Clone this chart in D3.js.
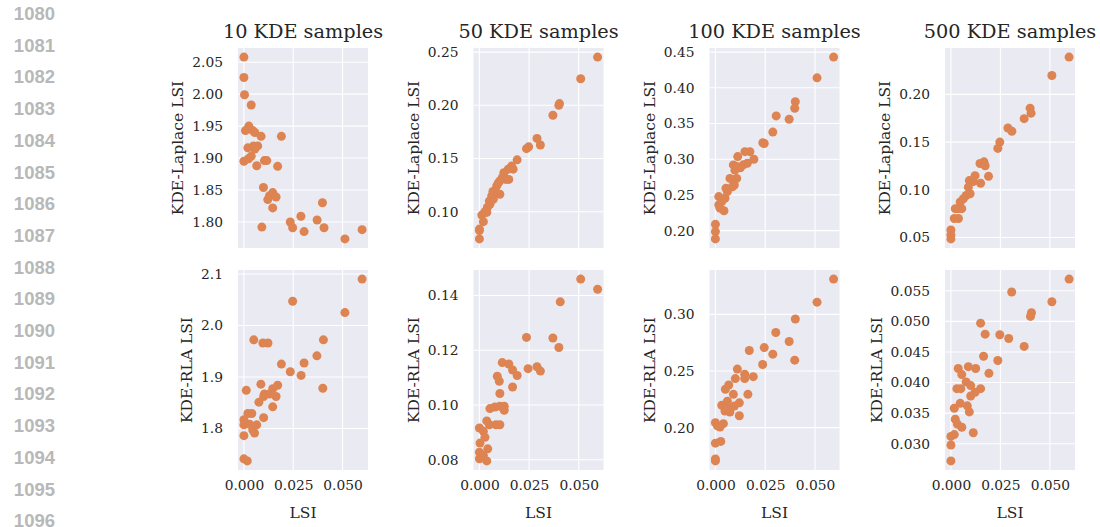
<!DOCTYPE html>
<html>
<head>
<meta charset="utf-8">
<script src="https://cdn.jsdelivr.net/npm/d3@7"></script>
<style>
  body { margin: 0; background: #fff; }
  svg { display: block; }
</style>
</head>
<body>
<div id="chart"></div>
<script>
// margin line numbers from the paper page
const lineNumbers = d3.range(1080, 1097);

const sampleCounts = [10, 50, 100, 500];
const rowLabels = ["KDE-Laplace LSI", "KDE-RLA LSI"];
const xTicks = [0, 0.025, 0.05];

// y tick values, row by row, column by column
const yTicksLaplace = [
  [1.80, 1.85, 1.90, 1.95, 2.00, 2.05],
  [0.10, 0.15, 0.20, 0.25],
  [0.20, 0.25, 0.30, 0.35, 0.40, 0.45],
  [0.05, 0.10, 0.15, 0.20]
];
const yTicksRla = [
  [1.8, 1.9, 2.0, 2.1],
  [0.08, 0.10, 0.12, 0.14],
  [0.20, 0.25, 0.30],
  [0.030, 0.035, 0.040, 0.045, 0.050, 0.055]
];
const yFormats = [[".2f", ".2f", ".2f", ".2f"], [".1f", ".2f", ".2f", ".3f"]];

// [LSI, KDE LSI] points
const laplace10 = [[0,2.058],[0,2.026],[0.0003,1.999],[0.0037,1.983],[0.0025,1.950],[0.0008,1.943],
  [0.0045,1.943],[0.0055,1.940],[0.0087,1.934],[0.019,1.934],[0.002,1.916],[0.0049,1.919],[0.007,1.919],
  [0.0055,1.914],[0,1.895],[0.0023,1.899],[0.0037,1.903],[0.0104,1.896],[0.0116,1.896],[0.0065,1.888],
  [0.0171,1.887],[0.0099,1.854],[0.0146,1.846],[0.013,1.841],[0.0163,1.839],[0.0121,1.835],[0.0146,1.822],
  [0.0398,1.830],[0.0289,1.809],[0.0235,1.800],[0.0247,1.791],[0.0371,1.803],[0.0406,1.791],[0.0305,1.785],
  [0.0091,1.792],[0.0512,1.7735],[0.0599,1.788]];
const laplace50 = [[0.0595,0.2453],[0.051,0.225],[0.0403,0.2016],[0.04,0.200],[0.037,0.1907],[0.0307,0.1627],
  [0.029,0.1689],[0.0237,0.1593],[0.0248,0.161],[0.019,0.1488],[0.017,0.140],[0.0162,0.1429],[0.0145,0.140],
  [0.0148,0.1304],[0.0133,0.1304],[0.0123,0.1367],[0.0103,0.129],[0.0103,0.1165],[0.0087,0.1242],
  [0.0078,0.118],[0.007,0.1118],[0.0062,0.1149],[0.005,0.110],[0.0053,0.107],[0.004,0.104],[0.0037,0.0994],
  [0.0012,0.0969],[0.002,0.0907],[0,0.0837],[0,0.0823],[0,0.0745],[0.0115,0.132],[0.0095,0.127],
  [0.0068,0.119],[0.0028,0.100]];
const laplace100 = [[0.0593,0.443],[0.051,0.4139],[0.0401,0.3806],[0.0398,0.3713],[0.037,0.356],[0.0305,0.3606],
  [0.0288,0.338],[0.0238,0.3231],[0.0245,0.322],[0.0193,0.300],[0.0173,0.3106],[0.0148,0.3106],[0.016,0.2944],
  [0.014,0.2921],[0.0112,0.3037],[0.0107,0.2898],[0.0125,0.288],[0.0098,0.2847],[0.009,0.292],[0.0107,0.2731],
  [0.0073,0.2731],[0.0095,0.2639],[0.0085,0.2615],[0.0053,0.2593],[0.006,0.2546],[0.0048,0.2454],
  [0.0017,0.2477],[0.0017,0.2361],[0.0032,0.2407],[0.0023,0.2315],[0.0043,0.2278],[0,0.2088],[0,0.1986],
  [0,0.1884]];
const laplace500 = [[0.0597,0.239],[0.051,0.2197],[0.040,0.1855],[0.0405,0.1803],[0.037,0.1745],[0.0288,0.1648],
  [0.0308,0.1614],[0.0247,0.150],[0.0237,0.1434],[0.0167,0.1293],[0.0147,0.1276],[0.0173,0.1252],[0.019,0.1141],
  [0.0122,0.1148],[0.0093,0.1097],[0.0113,0.1086],[0.015,0.1069],[0.0088,0.1028],[0.0077,0.0941],
  [0.0097,0.0959],[0.0063,0.0907],[0.0047,0.0872],[0.0038,0.0803],[0.0022,0.0803],[0.0055,0.0803],
  [0.0017,0.070],[0.0038,0.070],[0,0.0579],[0,0.0528],[0,0.0486]];

const rla10 = [[0.0599,2.090],[0.0247,2.047],[0.0512,2.025],[0.005,1.972],[0.0096,1.966],[0.0122,1.966],
  [0.0403,1.972],[0.037,1.941],[0.019,1.925],[0.0305,1.927],[0.0235,1.910],[0.029,1.903],[0.040,1.878],
  [0.0012,1.874],[0.0086,1.886],[0.0171,1.884],[0.0146,1.877],[0.0104,1.867],[0.013,1.867],[0.0076,1.851],
  [0.0163,1.862],[0.0146,1.842],[0.010,1.862],[0.002,1.829],[0.004,1.829],[0.010,1.821],[0,1.817],
  [0,1.807],[0.0029,1.808],[0.0065,1.807],[0.0045,1.797],[0.0054,1.791],[0,1.786],[0,1.741],[0.0017,1.737]];
const rla50 = [[0.0595,0.1423],[0.051,0.146],[0.0407,0.1377],[0.037,0.1245],[0.040,0.121],[0.0237,0.1247],
  [0.0245,0.1133],[0.029,0.114],[0.0307,0.1124],[0.0115,0.1155],[0.0148,0.115],[0.0167,0.1128],[0.019,0.1108],
  [0.0167,0.1066],[0.009,0.1105],[0.010,0.1087],[0.0103,0.1042],[0.0053,0.0987],[0.0078,0.0993],
  [0.0103,0.0996],[0.0125,0.0996],[0.0125,0.0981],[0.0037,0.0942],[0.005,0.0928],[0.0083,0.0928],
  [0.0103,0.0928],[0,0.0916],[0.002,0.0904],[0.0028,0.0882],[0.0003,0.0861],[0.0042,0.084],[0,0.0828],
  [0.002,0.0816],[0,0.0804],[0.0037,0.0796]];
const rla100 = [[0.0593,0.3312],[0.051,0.3108],[0.0401,0.2959],[0.0303,0.284],[0.037,0.2761],[0.0288,0.2649],
  [0.0245,0.2707],[0.017,0.2681],[0.0398,0.2596],[0.0237,0.2558],[0.019,0.245],[0.0147,0.2471],
  [0.0147,0.2433],[0.011,0.2517],[0.010,0.2433],[0.0163,0.2294],[0.0067,0.2377],[0.005,0.2339],
  [0.009,0.2294],[0.012,0.2219],[0.0095,0.219],[0.006,0.2233],[0.0032,0.2198],[0.006,0.2175],
  [0.0073,0.2137],[0.0048,0.2146],[0.012,0.2105],[0,0.2044],[0.001,0.2015],[0.0023,0.2006],[0.004,0.2035],
  [0,0.1863],[0.0027,0.1878],[0,0.1723],[0,0.1706]];
const rla500 = [[0.0597,0.0569],[0.051,0.0532],[0.0307,0.0548],[0.0407,0.0514],[0.0402,0.0508],[0.015,0.0497],
  [0.0173,0.0479],[0.0247,0.0478],[0.0292,0.0472],[0.037,0.0459],[0.0165,0.0443],[0.0237,0.0436],
  [0.0192,0.0415],[0.0037,0.0423],[0.0088,0.0426],[0.0125,0.0423],[0.0055,0.0413],[0.0077,0.0401],
  [0.003,0.039],[0.005,0.039],[0.010,0.0395],[0.0122,0.0384],[0.015,0.039],[0.010,0.0378],[0.0017,0.0358],
  [0.0047,0.0366],[0.0083,0.0362],[0.0093,0.0352],[0.0022,0.034],[0.0033,0.0332],[0.0055,0.0327],
  [0.0113,0.0318],[0.0017,0.0315],[0,0.0312],[0,0.0298],[0,0.0272]];

const rows = [
  { label: rowLabels[0], sets: [laplace10, laplace50, laplace100, laplace500], ticks: yTicksLaplace },
  { label: rowLabels[1], sets: [rla10, rla50, rla100, rla500], ticks: yTicksRla }
];

const width = 1100, height = 527;
const panelW = 130, panelH = 200;
const colLeft = [238, 473.5, 709.5, 945];
const rowTop = [48, 270];
const serif = "'DejaVu Serif', serif";
const textColor = "#262626";
const dotColor = "#dd8452";

const svg = d3.select("#chart").append("svg")
  .attr("width", width)
  .attr("height", height);

svg.append("g")
  .selectAll("text")
  .data(lineNumbers)
  .join("text")
  .attr("x", 55)
  .attr("y", (d, i) => 20 + i * 31.7)
  .attr("text-anchor", "end")
  .attr("font-family", "'Liberation Sans', Arial, sans-serif")
  .attr("font-weight", "bold")
  .attr("font-size", 18.5)
  .attr("fill", "#b8b8b8")
  .text(d => d);

function pad(ext) {
  const m = (ext[1] - ext[0]) * 0.05;
  return [ext[0] - m, ext[1] + m];
}

rows.forEach((row, r) => {
  row.sets.forEach((data, c) => {
    const g = svg.append("g").attr("transform", `translate(${colLeft[c]},${rowTop[r]})`);
    const x = d3.scaleLinear().domain(pad(d3.extent(data, d => d[0]))).range([0, panelW]);
    const y = d3.scaleLinear().domain(pad(d3.extent(data, d => d[1]))).range([panelH, 0]);

    g.append("rect").attr("width", panelW).attr("height", panelH).attr("fill", "#eaeaf2");

    // grid
    g.append("g").selectAll("line").data(xTicks).join("line")
      .attr("x1", d => x(d)).attr("x2", d => x(d))
      .attr("y1", 0).attr("y2", panelH)
      .attr("stroke", "#fff").attr("stroke-width", 1.1);
    g.append("g").selectAll("line").data(row.ticks[c]).join("line")
      .attr("y1", d => y(d)).attr("y2", d => y(d))
      .attr("x1", 0).attr("x2", panelW)
      .attr("stroke", "#fff").attr("stroke-width", 1.1);

    g.append("g").selectAll("circle").data(data).join("circle")
      .attr("cx", d => x(d[0]))
      .attr("cy", d => y(d[1]))
      .attr("r", 4.5)
      .attr("fill", dotColor);

    // y axis
    const yAxis = g.append("g")
      .call(d3.axisLeft(y).tickValues(row.ticks[c]).tickFormat(d3.format(yFormats[r][c])).tickSize(0).tickPadding(15));
    yAxis.select(".domain").remove();
    yAxis.selectAll("text")
      .attr("font-family", serif).attr("font-size", 13.8).attr("fill", textColor);

    let tickLeft = 0;
    yAxis.selectAll("text").each(function() {
      tickLeft = Math.min(tickLeft, this.getBBox().x);
    });
    g.append("text")
      .attr("transform", `translate(${tickLeft - 9},${panelH / 2}) rotate(-90)`)
      .attr("text-anchor", "middle")
      .attr("font-family", serif).attr("font-size", 15.5).attr("fill", textColor)
      .text(row.label);

    if (r === 0) {
      g.append("text")
        .attr("x", panelW / 2).attr("y", -10)
        .attr("text-anchor", "middle")
        .attr("font-family", serif).attr("font-size", 19.3).attr("fill", textColor)
        .text(`${sampleCounts[c]} KDE samples`);
    } else {
      const xAxis = g.append("g").attr("transform", `translate(0,${panelH})`)
        .call(d3.axisBottom(x).tickValues(xTicks).tickFormat(d3.format(".3f")).tickSize(0).tickPadding(10));
      xAxis.select(".domain").remove();
      xAxis.selectAll("text")
        .attr("font-family", serif).attr("font-size", 13.8).attr("fill", textColor);
      g.append("text")
        .attr("x", panelW / 2).attr("y", panelH + 48)
        .attr("text-anchor", "middle")
        .attr("font-family", serif).attr("font-size", 15.5).attr("fill", textColor)
        .text("LSI");
    }
  });
});
</script>
</body>
</html>
